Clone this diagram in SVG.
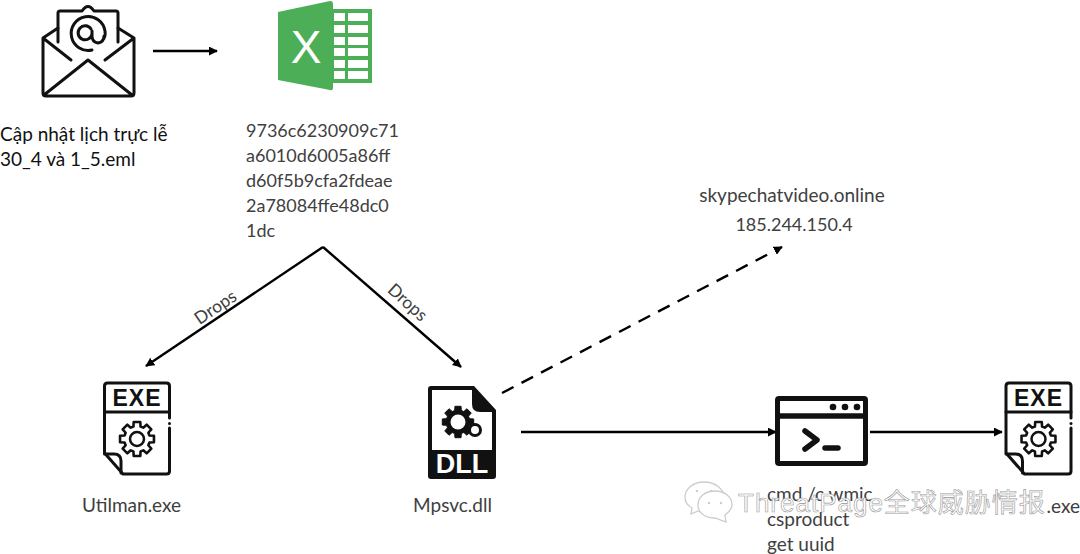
<svg xmlns="http://www.w3.org/2000/svg" width="1080" height="554" viewBox="0 0 1080 554">
<style>
.t{font-family:"Lato","Open Sans","Noto Sans",sans-serif;font-size:19px;fill:#404040}
.h{font-size:18px}
.k{fill:#111}
.i{fill:none;stroke:#111;stroke-width:3;stroke-linejoin:round;stroke-linecap:round}
.b{font-family:"Liberation Sans",sans-serif;font-weight:bold;text-anchor:middle}
.c{fill:none;stroke:#000;stroke-width:2.4}
.w{font-family:"Liberation Sans","Noto Sans CJK SC",sans-serif;font-size:26px;fill:#fff;stroke:#999;stroke-width:.6;letter-spacing:1px}
</style>
<defs>
<marker id="a" viewBox="0 0 10 10" refX="9" refY="5" markerWidth="9" markerHeight="9" markerUnits="userSpaceOnUse" orient="auto"><path d="M0 0L10 5L0 10Z" fill="#000"/></marker>
<path id="gear" d="M11.5 -3.3L15.7 -3.05L15.7 3.05L11.5 3.3L10.5 5.8L13.26 8.94L8.94 13.26L5.8 10.5L3.3 11.5L3.05 15.7L-3.05 15.7L-3.3 11.5L-5.8 10.5L-8.94 13.26L-13.26 8.94L-10.5 5.8L-11.5 3.3L-15.7 3.05L-15.7 -3.05L-11.5 -3.3L-10.5 -5.8L-13.26 -8.94L-8.94 -13.26L-5.8 -10.5L-3.3 -11.5L-3.05 -15.7L3.05 -15.7L3.3 -11.5L5.8 -10.5L8.94 -13.26L13.26 -8.94L10.5 -5.8Z"/>
<g id="exe">
<path class="i" d="M169.500 418V386Q169.500 383 166.500 383H107.500Q104.500 383 104.500 386V453L123 474H166.500Q169.500 474 169.500 471V428"/>
<path class="i" d="M104.500 412H169.500M104.500 454H114Q121 454 121 461V473"/>
<circle cx="169.500" cy="423.500" r="1.500" fill="#111"/>
<text class="b" x="137" y="406" font-size="23" fill="#111" letter-spacing="1">EXE</text>
<use href="#gear" transform="translate(137 439) scale(1.080)" fill="none" stroke="#111" stroke-width="2.400" stroke-linejoin="round"/>
<circle cx="137" cy="439" r="7" fill="none" stroke="#111" stroke-width="2.500"/>
</g>
</defs>
<rect width="1080" height="554" fill="#fff"/>
<g id="connectors">
<path class="c" d="M153 51H217" marker-end="url(#a)"/>
<path class="c" d="M323 247L146 366" marker-end="url(#a)"/>
<path class="c" d="M323 247L461 367" marker-end="url(#a)"/>
<path class="c" d="M502 393L782 247" stroke-dasharray="13 9" marker-end="url(#a)"/>
<path class="c" d="M521 432H776" marker-end="url(#a)"/>
<path class="c" d="M870 432H1002" marker-end="url(#a)"/>
<text class="t" transform="translate(216 308) rotate(-34)" text-anchor="middle" y="5" style="font-size:17.500px">Drops</text>
<text class="t" transform="translate(407 303) rotate(42)" text-anchor="middle" y="5" style="font-size:17.500px">Drops</text>
</g>
<g id="email">
<path class="i" d="M58 42V13Q58 11 60 11H82Q88 2 94 11H116Q118 11 118 13V42"/>
<path class="i" d="M58 28L43 38V93Q43 96 46 96H131Q134 96 134 93V38L118 28M43 38L71 60M134 38L105 60M44 95L88 60L132 95"/>
<path class="i" d="M104 36Q104 42 98 43Q92 42 92 36V31M92 34A7 7 0 1 1 91 29M102 41Q106 37 105 31A17 17 0 1 0 92 50"/>
<text class="t k" x="0" y="141">Cập nhật lịch trực lễ</text>
<text class="t k" x="0" y="166">30_4 và 1_5.eml</text>
</g>
<g id="excel">
<path d="M278 12L330 1Q333 1 333 4V9H372V83H333V88Q333 91 330 90L278 80Z" fill="#4caf58"/>
<path fill="#fff" d="M334 13h11v8h-11zM348 13h20v8h-20zM334 25h11v8h-11zM348 25h20v8h-20zM334 37h11v8h-11zM348 37h20v8h-20zM334 48h11v8h-11zM348 48h20v8h-20zM334 60h11v8h-11zM348 60h20v8h-20zM334 71h11v8h-11zM348 71h20v8h-20z"/>
<text x="306" y="63" font-family="Liberation Sans, sans-serif" font-size="46" text-anchor="middle" fill="#fff">X</text>
<text class="t h" x="246" y="137">9736c6230909c71</text>
<text class="t h" x="246" y="162">a6010d6005a86ff</text>
<text class="t h" x="246" y="187">d60f5b9cfa2fdeae</text>
<text class="t h" x="246" y="212">2a78084ffe48dc0</text>
<text class="t h" x="246" y="237">1dc</text>
</g>
<g id="c2">
<text class="t" x="792" y="202" text-anchor="middle">skypechatvideo.online</text>
<text class="t h" x="794" y="231" text-anchor="middle">185.244.150.4</text>
</g>
<g id="utilman">
<use href="#exe"/>
<text class="t" x="82" y="512">Utilman.exe</text>
</g>
<g id="mpsvc">
<path d="M431 386H474L496 410V476Q496 479 493 479H431Q428 479 428 476V389Q428 386 431 386Z" fill="#111"/>
<path d="M432 390H472V404Q472 412 480 412H492V450H432Z" fill="#fff"/>
<text class="b" x="462" y="473" font-size="27" fill="#fff">DLL</text>
<use href="#gear" transform="translate(458 422)" fill="#111" stroke="#111"/>
<circle cx="458" cy="422" r="7.500" fill="#fff"/>
<circle cx="475" cy="430" r="5.500" fill="#fff" stroke="#111" stroke-width="3"/>
<text class="t" x="413" y="512">Mpsvc.dll</text>
</g>
<g id="terminal">
<rect x="777.500" y="398.500" width="88" height="65" rx="1.500" fill="#fff" stroke="#111" stroke-width="5"/>
<path d="M777 416H866" stroke="#111" stroke-width="5.500"/>
<circle cx="833" cy="407" r="3.300" fill="#111"/><circle cx="845" cy="407" r="3.300" fill="#111"/><circle cx="857" cy="407" r="3.300" fill="#111"/>
<path d="M805 431L817 440L805 449" fill="none" stroke="#111" stroke-width="5.500" stroke-linecap="round" stroke-linejoin="round"/>
<path d="M825 448H838" stroke="#111" stroke-width="5.500" stroke-linecap="round"/>
<text class="t" x="767" y="501">cmd /c wmic</text>
<text class="t" x="767" y="526">csproduct</text>
<text class="t" x="767" y="551">get uuid</text>
</g>
<g id="payload">
<use href="#exe" transform="translate(901.500 0)"/>
<text class="t" x="1080" y="513" text-anchor="end">.exe</text>
</g>
<g id="watermark">
<path d="M704 482C693 482 685 489 685 497C685 502 688 506 692 508L691 514L698 511C700 512 702 512 704 512C716 512 724 505 724 497C724 489 715 482 704 482Z" fill="#fff" stroke="#ccc" stroke-width="1.300"/>
<path d="M715 491C705 491 698 497 698 505C698 513 705 518 715 518L726 522L725 515C729 512 732 509 732 505C732 497 725 491 715 491Z" fill="#fff" stroke="#ccc" stroke-width="1.300"/>
<circle cx="697" cy="491" r="1.200" fill="#ccc"/><circle cx="711" cy="491" r="1.200" fill="#ccc"/><circle cx="709" cy="503" r="1.200" fill="#ccc"/><circle cx="721" cy="503" r="1.200" fill="#ccc"/>
<text class="w" x="738" y="512">ThreatPage全球威胁情报</text>
</g>
</svg>
